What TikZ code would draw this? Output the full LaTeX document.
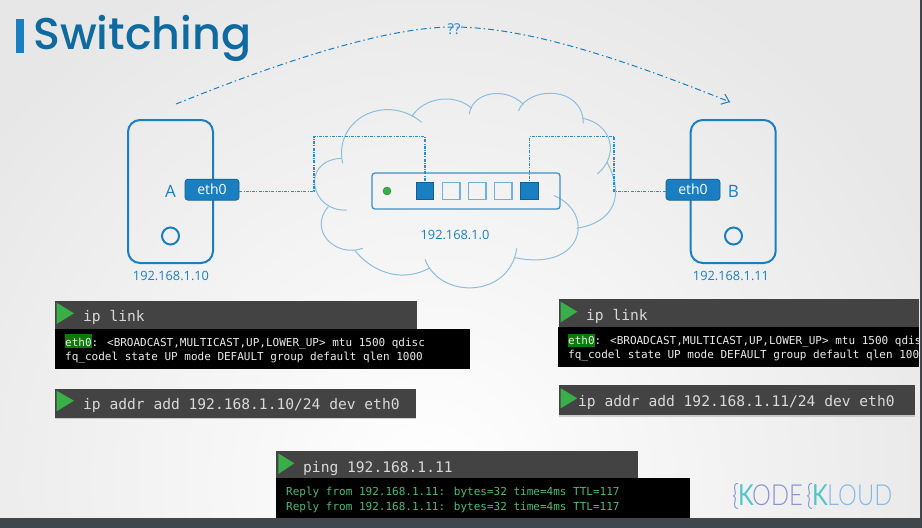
\documentclass[tikz,border=0pt]{standalone}
\usepackage{fontspec}
\usepackage{tikz}
\usetikzlibrary{arrows.meta,decorations.markings,shadows}
\setmainfont{Open Sans}
\newfontfamily\titlefont{Poppins Medium}
\newfontfamily\termfont{DejaVu Sans Mono}
\newfontfamily\logofont{Lato Light}
\newfontfamily\logokfont{Lato}
\definecolor{hostblue}{HTML}{1A7FC1}
\definecolor{portedge}{HTML}{0F5F94}
\definecolor{portlight}{HTML}{6FB0DC}
\definecolor{cloudblue}{HTML}{8CBEE0}
\definecolor{wireblue}{HTML}{2F8BC9}
\definecolor{titleblue}{HTML}{0F6AA0}
\definecolor{bargray}{HTML}{434343}
\definecolor{playgreen}{HTML}{3AAE49}
\definecolor{hlgreen}{HTML}{0A7A0A}
\definecolor{replygreen}{HTML}{4DBB74}
\definecolor{bggray}{HTML}{E7E7E7}
\definecolor{stripgray}{HTML}{3F474D}
\definecolor{logobrace}{HTML}{7A8FD0}
\definecolor{logoteal}{HTML}{55C6C8}
\definecolor{logopurple}{HTML}{8A92CE}
\definecolor{logosky}{HTML}{86B9E6}
\tikzset{arrowend/.style = {decoration={markings,
                                  mark=at position 1 with {\arrow[solid]{Straight Barb[length=7,width=11]}}},
                      postaction={decorate}}}
\tikzset{wire/.style = {wireblue, line width = 1.1, dash pattern = on 3 off 1.2 on 1 off 1.2}}
\tikzset{arcline/.style = {hostblue, line width = 1, dash pattern = on 6 off 3 on 1.5 off 3}}
\tikzset{cloudarc/.style = {cloudblue, line width = 1}}
\tikzset{hostbox/.style = {draw = hostblue, line width = 2, rounded corners = 12, minimum width = 85, minimum height = 143}}
\tikzset{ethbox/.style = {fill = hostblue, draw = portedge, line width = 0.7, rounded corners = 3, text = white, minimum width = 54, minimum height = 21, inner sep = 0, font = \fontsize{14}{16}\selectfont}}
\tikzset{hostlabel/.style = {text = hostblue, inner sep = 0, font = \fontsize{17}{20}\selectfont}}
\tikzset{iplabel/.style = {text = hostblue, inner sep = 0, font = \fontsize{12.8}{15}\selectfont}}
\tikzset{hostled/.style = {circle, draw = hostblue, line width = 2, minimum size = 17, inner sep = 0}}
\tikzset{portfull/.style = {fill = hostblue, draw = portedge, line width = 1, minimum size = 17.5, inner sep = 0}}
\tikzset{portfree/.style = {draw = portlight, line width = 1.2, minimum size = 17.5, inner sep = 0}}
\tikzset{cmdbar/.style = {fill = bargray, inner sep = 0, drop shadow = {shadow xshift = 0pt, shadow yshift = -1.5pt, opacity = 0.35}}}
\tikzset{outbox/.style = {fill = black, inner sep = 0}}
\tikzset{cmdtext/.style = {text = white!85!black, anchor = west, inner sep = 0, font = \termfont\fontsize{14.6}{16}\selectfont}}
\tikzset{outtext/.style = {text = white!92!black, anchor = west, align = left, inner sep = 0, font = \termfont\fontsize{11}{14.2}\selectfont}}
\tikzset{logotext/.style = {anchor = base west, inner sep = 0, xscale = 0.82, font = \logofont\fontsize{29}{30}\selectfont}}

\begin{document}
\begin{tikzpicture}[x = 1pt, y = -1pt]
      \useasboundingbox (0, 0) rectangle (922, 528);

      % backdrop
      \fill [bggray] (0, 0) rectangle (922, 528);
      \begin{scope}
        \clip (0, 0) rectangle (922, 528);
        \shade [inner color = white, outer color = bggray] (430, 480) circle (560);
      \end{scope}

      % title
      \fill [hostblue] (16, 19) rectangle (24, 53);
      \node [anchor = base west, inner sep = 0, text = titleblue, font = \titlefont\fontsize{44.5}{46}\selectfont] (title) at (33, 49) {Switching};

      % cloud
      \draw [cloudarc] (342.7, 163.3) .. controls (333, 120) and (385, 92) .. (421.7, 122.3);
      \draw [cloudarc] (411.7, 116.7) .. controls (424, 97) and (455, 93) .. (471.7, 108.3);
      \draw [cloudarc] (469.3, 114.3) .. controls (472, 92) and (505, 86) .. (523.3, 104.3);
      \draw [cloudarc] (518.3, 111) .. controls (528, 86) and (583, 85) .. (583.3, 123.3);
      \draw [cloudarc] (582.7, 118.3) .. controls (612, 124) and (620, 155) .. (597.3, 174);
      \draw [cloudarc] (606.7, 161.7) .. controls (625, 195) and (615, 222) .. (576.7, 228.3);
      \draw [cloudarc] (554, 195.7) .. controls (595, 212) and (585, 272) .. (515, 257.7);
      \draw [cloudarc] (516.7, 248.3) .. controls (510, 298) and (440, 300) .. (425, 259.3);
      \draw [cloudarc] (430, 267.7) .. controls (405, 282) and (375, 275) .. (355, 250.7);
      \draw [cloudarc] (362.7, 248.3) .. controls (335, 258) and (308, 230) .. (328.3, 206.7);
      \draw [cloudarc] (346.7, 210) .. controls (310, 212) and (300, 160) .. (341.7, 158.3);

      % hosts
      \node [hostbox] (hosta) at (170.5, 191.5) {};
      \node [hostbox] (hostb) at (733.2, 191.5) {};
      \node [hostlabel] (labela) at (170.5, 191.5) {A};
      \node [hostlabel] (labelb) at (733.5, 191.5) {B};
      \node [hostled] (leda) at (170.5, 236) {};
      \node [hostled] (ledb) at (733.5, 236) {};
      \node [iplabel] (ipa) at (171, 276) {192.168.1.10};
      \node [iplabel] (ipb) at (731, 276) {192.168.1.11};

      % switch
      \node [draw = hostblue!85!white, line width = 1.3, rounded corners = 3, minimum width = 188, minimum height = 36, inner sep = 0] (switch) at (466, 191) {};
      \node [circle, fill = playgreen, draw = playgreen!70!black, line width = 0.4, minimum size = 8, inner sep = 0] (swled) at (387, 191) {};
      \node [portfull] (porta) at (425, 191) {};
      \node [portfree] (portb) at (451.3, 191) {};
      \node [portfree] (portc) at (477.3, 191) {};
      \node [portfree] (portd) at (503.3, 191) {};
      \node [portfull] (porte) at (529.5, 191) {};
      \node [iplabel] (ipnet) at (455, 235) {192.168.1.0};

      % interfaces
      \node [ethbox] (etha) at (212, 189.7) {eth0};
      \node [ethbox] (ethb) at (693, 189.7) {eth0};

      % wires
      \coordinate (benda) at (314, 191.2);
      \coordinate (bendb) at (314, 136.5);
      \coordinate (bendc) at (614, 191.2);
      \coordinate (bendd) at (614, 136.5);
      \draw [wire] (etha.east |- benda) -- (benda) -- (bendb) -| (porta);
      \draw [wire] (ethb.west |- bendc) -- (bendc) -- (bendd) -| (porte);

      % arc with the question marks
      \coordinate (arcstart) at (176, 104);
      \coordinate (arctop) at (453, 27);
      \coordinate (arcend) at (730, 102);
      \draw [arcline, arrowend] (arcstart) .. controls (290, 58) and (390, 27) .. (arctop) .. controls (530, 27) and (630, 62) .. (arcend);
      \node [text = wireblue, inner sep = 0, font = \fontsize{15}{17}\selectfont] (query) at (454, 29) {??};

      % left terminals
      \node [cmdbar, minimum width = 362, minimum height = 28] (linkabar) at (236, 315) {};
      \node [outbox, minimum width = 415, minimum height = 40] (linkaout) at (262.5, 349) {};
      \node [fill = hlgreen, minimum width = 27, minimum height = 14, inner sep = 0] (linkahl) at (78.5, 341) {};
      \fill [playgreen] (56.7, 302.7) -- (74, 313.3) -- (56.7, 324) -- cycle;
      \node [cmdtext] (linkacmd) at (83, 317) {ip link};
      \node [outtext] (linkatext) at (65, 350.5) {eth0: <BROADCAST,MULTICAST,UP,LOWER\_UP> mtu 1500 qdisc\\fq\_codel state UP mode DEFAULT group default qlen 1000};

      \node [cmdbar, minimum width = 361, minimum height = 29] (addrabar) at (235.5, 403) {};
      \fill [playgreen] (56.7, 390.7) -- (74, 400.7) -- (56.7, 411.3) -- cycle;
      \node [cmdtext] (addracmd) at (83, 405) {ip addr add 192.168.1.10/24 dev eth0};

      % right terminals
      \node [cmdbar, minimum width = 360, minimum height = 28] (linkbbar) at (739, 313) {};
      \node [outbox, minimum width = 361, minimum height = 40] (linkbout) at (738.5, 347) {};
      \node [fill = hlgreen, minimum width = 27, minimum height = 13, inner sep = 0] (linkbhl) at (581.5, 340) {};
      \fill [playgreen] (560.7, 301.7) -- (577.3, 311.7) -- (560.7, 322.3) -- cycle;
      \node [cmdtext] (linkbcmd) at (586, 316) {ip link};
      \node [outtext] (linkbtext) at (568, 349) {eth0: <BROADCAST,MULTICAST,UP,LOWER\_UP> mtu 1500 qdisc\\fq\_codel state UP mode DEFAULT group default qlen 1000};

      \node [cmdbar, minimum width = 356, minimum height = 30] (addrbbar) at (737, 400) {};
      \fill [playgreen] (560.7, 388.3) -- (577.3, 398.3) -- (560.7, 408.3) -- cycle;
      \node [cmdtext] (addrbcmd) at (578, 402) {ip addr add 192.168.1.11/24 dev eth0};

      % ping terminal
      \node [cmdbar, minimum width = 362, minimum height = 27] (pingbar) at (457, 464.5) {};
      \node [outbox, minimum width = 414, minimum height = 40] (pingout) at (483, 498) {};
      \fill [playgreen] (278.3, 453.3) -- (294.3, 463.3) -- (278.3, 474) -- cycle;
      \node [cmdtext] (pingcmd) at (303, 468.5) {ping 192.168.1.11};
      \node [outtext, text = replygreen] (pingtext) at (286, 500) {Reply from 192.168.1.11: bytes=32 time=4ms TTL=117\\Reply from 192.168.1.11: bytes=32 time=4ms TTL=117};

      % logo
      \node [logotext, text = logobrace] (logoa) at (732, 505) {\{};
      \node [logotext, text = logoteal, font = \logokfont\fontsize{29}{30}\selectfont] (logob) at (738, 505) {K};
      \node [logotext, text = logopurple] (logoc) at (752, 505) {ODE};
      \node [logotext, text = logobrace] (logod) at (806, 505) {\{};
      \node [logotext, text = logoteal, font = \logokfont\fontsize{29}{30}\selectfont] (logoe) at (812, 505) {K};
      \node [logotext, text = logosky] (logof) at (827, 505) {LOUD};

      % frame strips
      \fill [stripgray] (0, 518) rectangle (922, 528);
      \fill [stripgray] (920, 0) rectangle (922, 528);
    \end{tikzpicture}
\end{document}
